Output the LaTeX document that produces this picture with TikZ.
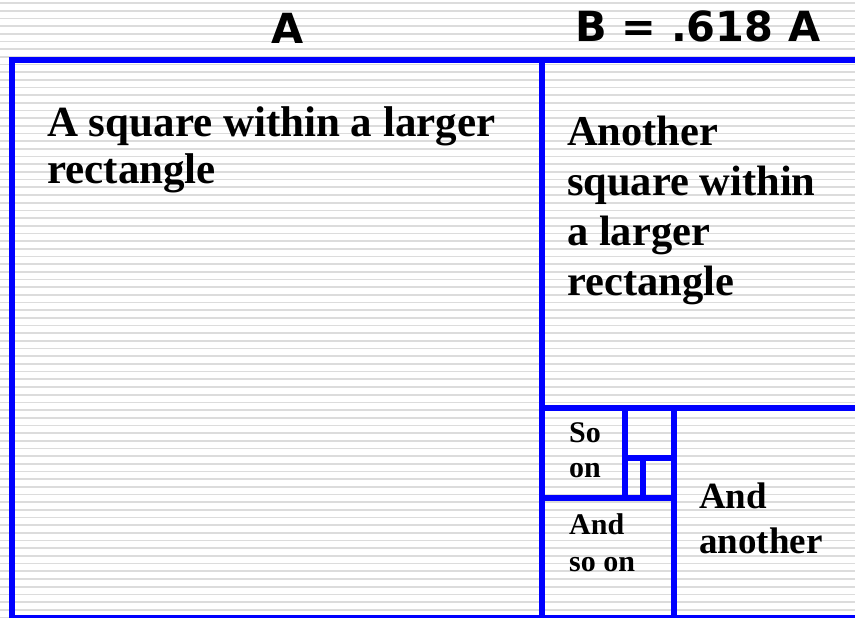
\documentclass[tikz,border=0pt]{standalone}
\usepackage{fontspec}
\setmainfont{Liberation Serif}
\newfontfamily\labelfont{DejaVu Sans}
\usepackage{xcolor}
\definecolor{gblue}{RGB}{0,0,255}
\definecolor{ggray}{RGB}{220,220,220}
\usepackage{tikz}
\usetikzlibrary{positioning}

\tikzset{
  frame/.style={draw=gblue, line width=6pt},
  stripe/.style={draw=ggray, line width=1.7pt},
  toplabel/.style={font=\labelfont\bfseries\fontsize{41.5}{48}\selectfont, inner sep=0pt, anchor=base},
  boxtext/.style={font=\bfseries, align=left, inner sep=0pt, anchor=base west}
}

\begin{document}
\begin{tikzpicture}[x=1pt, y=-1pt]
  \useasboundingbox (0,0) rectangle (855,618);
  \clip (0,0) rectangle (855,618);
  \fill[white] (0,0) rectangle (855,618);

  % Ruled background
  \foreach \k in {0,...,80}
    \draw[stripe] (0,{3+7.68*\k}) -- (855,{3+7.68*\k});

  % --- Side labels ---
  \node[toplabel] (sideA) at (288,44) {A};
  \node[toplabel] (sideB) at (698,42) {B = .618 A};

  % --- Golden rectangle and its squares ---
  \draw[frame] (12,60) rectangle (870,618);
  \draw[frame] (542,60) -- (542,618);
  \draw[frame] (542,408) -- (870,408);
  \draw[frame] (674,408) -- (674,618);
  \draw[frame] (542,498) -- (674,498);
  \draw[frame] (625,408) -- (625,498);
  \draw[frame] (625,457.5) -- (674,457.5);
  \draw[frame] (643,457.5) -- (643,498);

  % --- Texts in the squares (anchored on last baseline) ---
  \node[boxtext, font=\bfseries\fontsize{43}{47}\selectfont] (bigsquare) at (47,183)
    {A square within a larger\\rectangle};
  \node[boxtext, font=\bfseries\fontsize{42.5}{50}\selectfont] (nextsquare) at (567,295)
    {Another\\square within\\a larger\\rectangle};
  \node[boxtext, font=\bfseries\fontsize{30}{35}\selectfont] (soon) at (569,477)
    {So\\on};
  \node[boxtext, font=\bfseries\fontsize{30}{37}\selectfont] (andsoon) at (569,571)
    {And\\so on};
  \node[boxtext, font=\bfseries\fontsize{37}{45}\selectfont] (andanother) at (699,553)
    {And\\another};
\end{tikzpicture}
\end{document}
